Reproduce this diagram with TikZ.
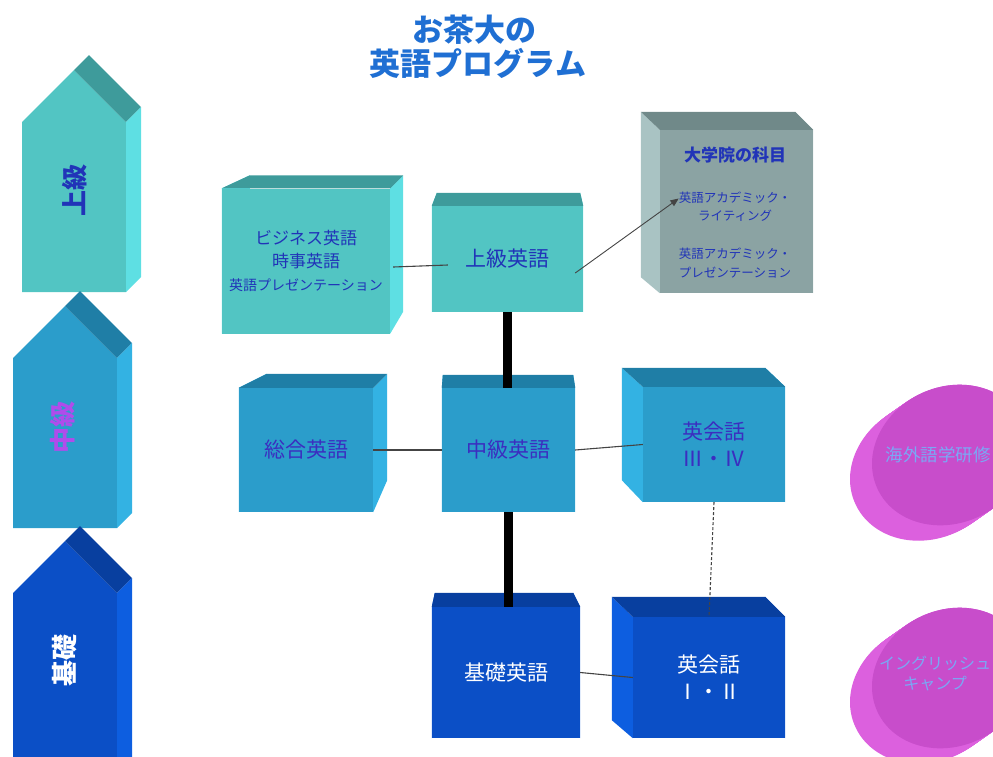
\documentclass[tikz,border=0pt]{standalone}
\usepackage{fontspec}
\setmainfont{Noto Sans CJK JP}
\usepackage{tikz}
\usetikzlibrary{arrows}
\usetikzlibrary{backgrounds}

\definecolor{tealfront}{HTML}{52C5C3}
\definecolor{tealtop}{HTML}{3E9B9B}
\definecolor{tealside}{HTML}{5EDFE3}
\definecolor{cyanfront}{HTML}{2B9DCB}
\definecolor{cyantop}{HTML}{1F7EA6}
\definecolor{cyanside}{HTML}{33B2E3}
\definecolor{navyfront}{HTML}{0B4FC6}
\definecolor{navytop}{HTML}{083F9F}
\definecolor{navyside}{HTML}{0D5EE0}
\definecolor{greyfront}{HTML}{8BA3A3}
\definecolor{greytop}{HTML}{708989}
\definecolor{greyside}{HTML}{A9C3C3}
\definecolor{cylface}{HTML}{C84DCB}
\definecolor{cylbody}{HTML}{DC60DE}
\definecolor{titleblue}{HTML}{1F6FD3}
\definecolor{boxtext}{HTML}{2134B8}
\definecolor{midtext}{HTML}{3B2EC0}
\definecolor{cyltext}{HTML}{7AA8F5}
\definecolor{lvlviolet}{HTML}{B04CEB}
\definecolor{linkgrey}{HTML}{444444}

\tikzset{
  front teal/.style={fill=tealfront}, top teal/.style={fill=tealtop}, side teal/.style={fill=tealside},
  front cyan/.style={fill=cyanfront}, top cyan/.style={fill=cyantop}, side cyan/.style={fill=cyanside},
  front navy/.style={fill=navyfront}, top navy/.style={fill=navytop}, side navy/.style={fill=navyside},
  front grey/.style={fill=greyfront}, top grey/.style={fill=greytop}, side grey/.style={fill=greyside}
}

\begin{document}
\begin{tikzpicture}[x=1pt, y=-1pt, >=stealth,
  box/.style={inner sep=0pt, align=center, text=boxtext, font=\fontsize{21}{25}\selectfont},
  level/.style={rotate=90, inner sep=0pt, font=\bfseries\fontsize{26}{26}\selectfont},
  link/.style={draw=linkgrey, line width=1.1pt},
  spine/.style={line width=8.5pt}]

\useasboundingbox (0,0) rectangle (993,756);

% level arrows
\foreach \x/\s/\e/\c in {22/122/292/teal, 13/358/528/cyan, 13/593/800/navy}
{
  \fill[front \c] (\x,\e) -- (\x,\s) -- (\x+52,\s-52) -- (\x+104,\s) -- (\x+104,\e) -- cycle;
  \fill[top \c] (\x+52,\s-52) -- ++(15,-15) -- (\x+119,\s-15) -- (\x+104,\s) -- cycle;
  \fill[side \c] (\x+104,\s) -- (\x+119,\s-15) -- (\x+119,\e-15) -- (\x+104,\e) -- cycle;
}

\node [level, text=boxtext] (lvl-adv) at (75,190) {上級};
\node [level, text=lvlviolet] (lvl-mid) at (63,427) {中級};
\node [level, text=white] (lvl-basic) at (65,660) {基礎};

% title
\node [font=\bfseries\fontsize{31}{31}\selectfont, text=titleblue] (title-1) at (474,30) {お茶大の};
\node [font=\bfseries\fontsize{31}{31}\selectfont, text=titleblue] (title-2) at (478,63) {英語プログラム};

% boxes
\node [box, front teal, minimum width=168, minimum height=145, font=\fontsize{17}{23}\selectfont] (busi) at (306,261)
  {ビジネス英語\\時事英語\\{\fontsize{14}{18}\selectfont 英語プレゼンテーション}};
\node [box, front teal, minimum width=151, minimum height=106] (adv) at (507.5,259) {上級英語};
\node [box, front grey, minimum width=153, minimum height=163] (grad) at (736.5,211.5) {};
\node [box, front cyan, text=midtext, minimum width=134, minimum height=124] (sogo) at (306,450) {総合英語};
\node [box, front cyan, text=midtext, minimum width=133, minimum height=124] (mid) at (508.5,450) {中級英語};
\node [box, front cyan, text=midtext, minimum width=142, minimum height=115, font=\fontsize{21}{27}\selectfont] (kaiwa34) at (714,444.5) {英会話\\Ⅲ・Ⅳ};
\node [box, front navy, text=white, minimum width=148, minimum height=131] (basic) at (506,672.5) {基礎英語};
\node [box, front navy, text=white, minimum width=152, minimum height=121, font=\fontsize{21}{27}\selectfont] (kaiwa12) at (709,677.5) {英会話\\Ⅰ・Ⅱ};

\node [box, font=\bfseries\fontsize{17}{17}\selectfont] (grad-title) at (735,155) {大学院の科目};
\node [box, font=\fontsize{12.5}{18}\selectfont] (writing) at (735,206.5) {英語アカデミック・\\ライティング};
\node [box, font=\fontsize{12.5}{19}\selectfont] (presen) at (735,263) {英語アカデミック・\\プレゼンテーション};

\begin{scope}[on background layer]
\foreach \n/\l/\r/\d/\b/\c in {busi/28/13/13/22/teal, adv/5/-3/13/13/teal, grad/-19/-18/18/16/grey,
  sogo/28/14/14/32/cyan, mid/1/-2/13/13/cyan, kaiwa34/-21/-20/19/22/cyan,
  basic/3/-7/14/14/navy, kaiwa12/-21/-20/20/18/navy}
{
  \fill[side \c] (\n.north east) -- ++(\r,-\d) -- ([shift={(\r,-\b)}]\n.south east) -- (\n.south east) -- cycle;
  \fill[side \c] (\n.north west) -- ++(\l,-\d) -- ([shift={(\l,-\b)}]\n.south west) -- (\n.south west) -- cycle;
  \fill[top \c] (\n.north west) -- ++(\l,-\d) -- ([shift={(\r,-\d)}]\n.north east) -- (\n.north east) -- cycle;
}
\end{scope}

% study abroad and camp
\foreach \cx/\cy in {950/455, 950/678}
{
  \foreach \t in {0,...,22}
    \fill[cylbody, rotate around={25:(\cx-\t,\cy+\t*0.7)}] (\cx-\t,\cy+\t*0.7) ellipse [x radius=80, y radius=68];
  \fill[cylface, rotate around={25:(\cx,\cy)}] (\cx,\cy) ellipse [x radius=80, y radius=68];
}
\node [text=cyltext, font=\fontsize{17.5}{17.5}\selectfont] (abroad) at (938,455) {海外語学研修};
\node [text=cyltext, align=center, font=\fontsize{16}{20}\selectfont] (camp) at (935,673) {イングリッシュ\\キャンプ};

% connectors
\draw [link] ([shift={(3,6)}]busi.east) -- ([shift={(16,6)}]adv.west);
\draw [link] (sogo.east) -- (mid.west);
\draw [link] (mid.east) -- (kaiwa34.west);
\draw [link] (basic.east) -- (kaiwa12.west);
\draw [spine] (adv.south) -- (adv.south |- mid.north);
\draw [spine] (mid.south) -- (mid.south |- basic.north);
\draw [link, dashed, dash pattern=on 3pt off 2pt] (kaiwa34.south) -- (kaiwa12.north);
\draw [link, line width=0.9pt, style={->,>=triangle 45}] ([shift={(-8,14)}]adv.east) -- ([shift={(0,-8)}]writing.west);

\end{tikzpicture}
\end{document}
